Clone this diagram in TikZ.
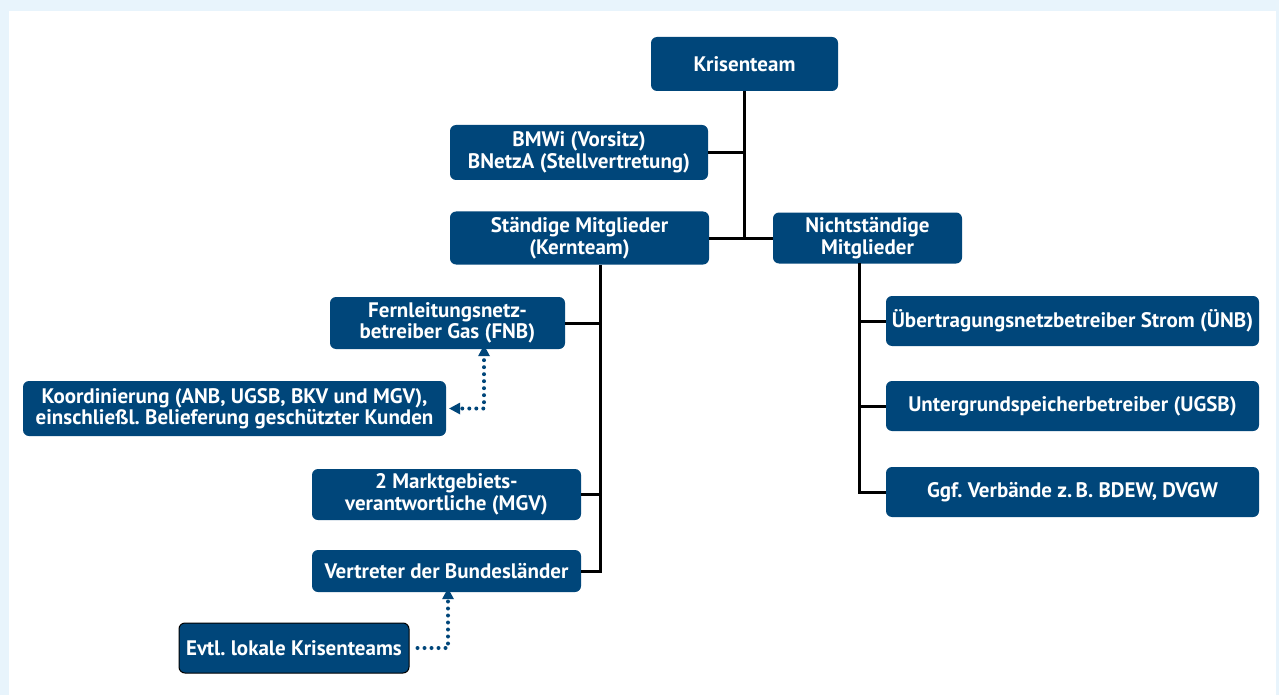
\documentclass[tikz,border=0pt]{standalone}
\usepackage{fontspec}
\setmainfont{PT Sans}
\usetikzlibrary{arrows.meta}
\definecolor{boxblue}{HTML}{00467A}
\definecolor{bgblue}{HTML}{E8F4FC}
\frenchspacing
\begin{document}
\begin{tikzpicture}[x=1pt,y=-1pt,
  box/.style={fill=boxblue, rounded corners=6pt, inner sep=0pt, text=white,
    font=\fontsize{21}{21.5}\selectfont\bfseries\frenchspacing, align=center},
  conn/.style={line width=3pt, black},
  dotline/.style={boxblue, line width=4pt, line cap=round, dash pattern=on 0pt off 7pt}
]
\useasboundingbox (0,0) rectangle (1279,695);
\fill[bgblue] (0,0) rectangle (1279,695);
\fill[white] (9,11) rectangle (1276,695);

\node[box, minimum width=187pt, minimum height=54pt] (kt) at (744.5,64) {Krisenteam};
\node[box, minimum width=258pt, minimum height=55pt] (bm) at (579,152.5) {BMWi (Vorsitz)\\BNetzA (Stellvertretung)};
\node[box, minimum width=259pt, minimum height=53pt] (sm) at (579.5,238) {Ständige Mitglieder\\(Kernteam)};
\node[box, minimum width=189pt, minimum height=51pt] (nst) at (867.5,238) {Nichtständige\\Mitglieder};
\node[box, minimum width=235pt, minimum height=52pt] (fnb) at (447.5,323) {Fernleitungsnetz-\\betreiber Gas (FNB)};
\node[box, minimum width=423pt, minimum height=55pt] (koo) at (234.5,408.5) {Koordinierung (ANB, UGSB, BKV und MGV),\\einschließl. Belieferung geschützter Kunden};
\node[box, minimum width=269pt, minimum height=51pt] (mgv) at (446.5,494.5) {2 Marktgebiets-\\verantwortliche (MGV)};
\node[box, minimum width=269pt, minimum height=42pt] (vt) at (446.5,571) {Vertreter der Bundesländer};
\node[box, draw=black, line width=1pt, minimum width=230pt, minimum height=50pt] (ev) at (294,648) {Evtl. lokale Krisenteams};
\node[box, minimum width=373pt, minimum height=50pt] (unb) at (1072.5,321) {Übertragungsnetzbetreiber Strom (ÜNB)};
\node[box, minimum width=373pt, minimum height=50pt] (ugsb) at (1072.5,406) {Untergrundspeicherbetreiber (UGSB)};
\node[box, minimum width=373pt, minimum height=50pt] (ggf) at (1072.5,492) {Ggf. Verbände z.\,B. BDEW, DVGW};

% top tree
\draw[conn] (kt.south) -- (kt.south |- sm.east);
\draw[conn] (bm.east) -- (bm.east -| kt.south);
\draw[conn] (sm.east) -- (nst.west);

% left tree
\coordinate (v1) at (600,265);
\draw[conn] (v1) |- (vt.east);
\draw[conn] (fnb.east) -- (fnb.east -| v1);
\draw[conn] (mgv.east) -- (mgv.east -| v1);

% right tree
\coordinate (v2) at (859,263);
\draw[conn] (v2) |- (ggf.west);
\draw[conn] (unb.west) -- (unb.west -| v2);
\draw[conn] (ugsb.west) -- (ugsb.west -| v2);

% dotted arrows
\draw[dotline] ([xshift=36.5pt,yshift=17pt]fnb.south) |- ([xshift=13pt]koo.east);
\fill[boxblue] ([xshift=36.5pt,yshift=4pt]fnb.south) -- ++(-6,11) -- ++(12,0) -- cycle;
\fill[boxblue] ([xshift=3pt]koo.east) -- ++(11,-6) -- ++(0,12) -- cycle;

\draw[dotline] ([xshift=8pt]ev.east) -| ([xshift=1.5pt,yshift=17pt]vt.south);
\fill[boxblue] ([xshift=1.5pt,yshift=4pt]vt.south) -- ++(-6,11) -- ++(12,0) -- cycle;
\end{tikzpicture}
\end{document}
